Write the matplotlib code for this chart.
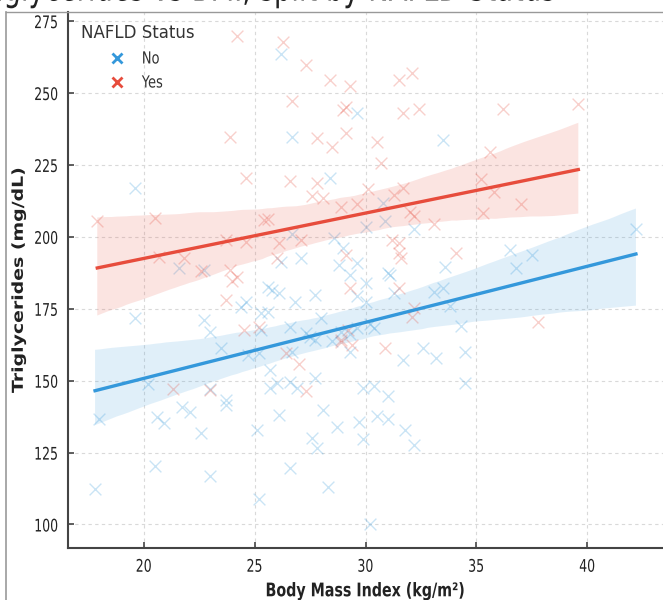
import matplotlib
matplotlib.use("Agg")
import matplotlib.pyplot as plt
import seaborn as sns
import numpy as np
from matplotlib.lines import Line2D
from matplotlib.patheffects import AbstractPathEffect
from matplotlib.transforms import Affine2D

# ---- data ----
bmi_no = [19.6, 26.2, 29.6, 26.7, 33.5, 28.4, 30.8, 30.9, 32.2, 30.0, 28.6, 26.7, 27.1, 26.2,
          29.0, 28.8, 29.6, 33.6, 31.0, 29.3, 21.6, 22.7, 42.2, 36.5, 37.5, 36.8, 30.0, 31.1,
          29.6, 30.0, 31.3, 33.1, 33.5, 33.8, 30.2, 30.4, 29.6, 28.9, 29.3, 28.5, 29.3, 34.3,
          31.7, 32.6, 33.2, 34.5, 34.5, 29.9, 30.4, 31.0, 28.7, 29.7, 30.5, 31.0, 31.8, 29.9,
          32.2, 24.6, 24.4, 25.6, 25.8, 25.3, 26.8, 26.1, 27.7, 25.6, 25.3, 26.7, 27.3, 27.5,
          27.7, 25.7, 25.7, 26.0, 26.6, 26.9, 27.7, 26.1, 28.1, 27.6, 25.1, 23.7, 23.7, 23.0,
          22.6, 21.7, 22.1, 20.6, 20.9, 20.2, 18.0, 19.6, 22.7, 23.0, 23.5, 24.7,
          25.2, 20.5, 23.0, 17.8, 25.2, 28.0, 26.6, 27.8, 26.6, 28.3, 30.2]
tg_no = [217.1, 263.4, 243.2, 234.8, 233.8, 220.6, 211.8, 205.6, 202.8, 203.5, 199.7, 201.0,
         192.7, 191.3, 196.2, 190.2, 190.9, 189.5, 187.5, 186.8, 189.2, 188.5, 202.8, 195.5,
         193.7, 189.2, 184.0, 186.8, 179.4, 177.4, 180.5, 180.8, 182.2, 176.0, 169.7, 168.3,
         168.3, 167.0, 166.2, 163.8, 160.0, 169.0, 157.1, 161.3, 157.8, 160.0, 149.1, 147.4,
         148.1, 144.6, 133.8, 135.5, 137.6, 136.6, 132.8, 129.6, 127.5, 177.4, 175.6, 182.6,
         181.5, 173.5, 177.4, 180.5, 179.8, 173.9, 167.6, 159.9, 166.6, 165.2, 164.1, 153.7,
         147.4, 149.1, 149.5, 147.4, 150.8, 138.0, 139.7, 130.0, 132.8, 143.2, 141.5, 147.0,
         131.7, 140.8, 139.0, 137.3, 135.2, 149.0, 136.6, 171.8, 171.1, 167.0, 161.3, 158.9,
         159.6, 120.2, 117.0, 112.5, 109.0, 171.8, 168.6, 126.5, 119.5, 112.9, 100.3]

bmi_yes = [24.2, 26.3, 27.3, 28.4, 29.3, 31.5, 32.1, 26.7, 29.1, 29.0, 31.7, 32.4, 27.8, 28.5,
           29.1, 30.5, 30.7, 26.6, 27.8, 27.6, 28.1, 30.1, 31.3, 31.7, 28.9, 29.6, 25.6, 32.0,
           32.2, 33.1, 26.1, 27.1, 31.2, 31.5, 26.0, 29.1, 31.5, 31.6, 34.1, 23.9, 24.6, 17.9,
           20.5, 25.4, 23.7, 24.6, 20.7, 21.8, 23.9, 24.2, 36.2, 39.6, 35.6, 35.2, 35.8, 37.0,
           35.3, 29.3, 31.5, 32.2, 32.1, 29.2, 28.9, 37.8, 30.9, 22.6, 24.0, 23.7, 24.5, 25.2,
           26.4, 27.0, 27.3, 21.3, 23.0, 28.9, 29.4]
tg_yes = [269.7, 267.6, 259.6, 254.7, 252.3, 254.4, 256.8, 247.4, 245.0, 244.2, 243.2, 244.6,
          234.5, 231.4, 236.2, 233.1, 225.8, 219.5, 218.8, 214.3, 213.6, 216.7, 214.6, 217.1,
          210.5, 211.5, 206.3, 208.7, 207.3, 204.5, 197.9, 199.0, 199.0, 197.9, 192.7, 193.7,
          194.4, 192.7, 194.4, 234.8, 220.6, 205.6, 206.6, 205.9, 199.0, 198.3, 193.0, 192.7,
          188.5, 186.0, 244.6, 246.3, 229.6, 220.2, 215.7, 211.5, 208.4, 182.2, 182.2, 175.3,
          172.1, 167.6, 163.3, 170.4, 161.3, 188.0, 184.7, 178.0, 167.6, 168.6, 159.6, 155.8,
          146.3, 147.0, 146.7, 164.1, 162.3]

groups = ["No", "Yes"]
colors = {"No": "#3498db", "Yes": "#e74c3c"}
x_ticks = [20, 25, 30, 35, 40]
y_ticks = [100, 125, 150, 175, 200, 225, 250, 275]
title = "Triglycerides vs BMI, split by NAFLD Status"

W, H = 663, 600
plt.rcParams["font.family"] = ["DejaVu Sans"]


class Squeeze(AbstractPathEffect):
    """Narrow the glyph outlines of a text (keeps it a real Text artist)."""

    def __init__(self, sx=1.0, sy=1.0, anchor="center"):
        super().__init__()
        self.sx, self.sy, self.anchor = sx, sy, anchor

    def draw_path(self, renderer, gc, tpath, affine, rgbFace=None):
        v = tpath.vertices
        if len(v) == 0:
            return renderer.draw_path(gc, tpath, affine, rgbFace)
        x0, x1 = v[:, 0].min(), v[:, 0].max()
        y0, y1 = v[:, 1].min(), v[:, 1].max()
        ax_ = {"left": x0, "center": (x0 + x1) / 2, "right": x1, "bottom": (x0 + x1) / 2}[self.anchor]
        ay_ = y0 if self.anchor == "bottom" else (y0 + y1) / 2
        t = Affine2D().translate(-ax_, -ay_).scale(self.sx, self.sy).translate(ax_, ay_)
        renderer.draw_path(gc, t.transform_path(tpath), affine, rgbFace)


fig = plt.figure(figsize=(W / 100, H / 100), dpi=100)
ax = fig.add_axes([68 / W, 1 - 548 / H, 1 - 68 / W, (548 - 12) / H])

data = {"No": (bmi_no, tg_no), "Yes": (bmi_yes, tg_yes)}
for g in groups:
    xs, ys = data[g]
    sns.regplot(x=np.array(xs), y=np.array(ys), ax=ax, marker="x", color=colors[g],
                scatter_kws={"alpha": 0.26, "s": 72, "linewidths": 1.0},
                line_kws={"linewidth": 2.4}, ci=95, n_boot=1000, seed=3, truncate=True)

ax.set_xticks(x_ticks)
ax.set_yticks(y_ticks)
ax.grid(True, linestyle=(0, (3, 3)), color="#d9d9d9", linewidth=0.8)
ax.set_axisbelow(True)
for s in ["top", "right"]:
    ax.spines[s].set_visible(False)
for s in ["left", "bottom"]:
    ax.spines[s].set_color("#444444")
    ax.spines[s].set_linewidth(1.5)
ax.tick_params(direction="in", length=4, width=1.2, color="#444444", labelsize=12.5,
               labelcolor="#222222", pad=7)
for lab in ax.get_xticklabels():
    lab.set_path_effects([Squeeze(sx=0.72, anchor="center")])
for lab in ax.get_yticklabels():
    lab.set_path_effects([Squeeze(sx=0.72, anchor="right")])

ax.set_xlabel("Body Mass Index (kg/m²)", fontsize=13.5, fontweight="bold", color="#222222",
              labelpad=4, path_effects=[Squeeze(sx=0.76, anchor="center")])
ax.set_ylabel("Triglycerides (mg/dL)", fontsize=13.6, fontweight="bold", color="#222222",
              path_effects=[Squeeze(sy=0.8, anchor="bottom")])
ax.yaxis.set_label_coords((26 - 68) / 595, 0.5)

# title of the original screenshot: cut by the top edge, only descenders show
fig.text(-28 / W, 1 - 8.5 / H, title, fontsize=27, color="#222222", ha="left", va="bottom",
         path_effects=[Squeeze(sx=0.73, anchor="left")])

# legend: title as a separate text, entries below it
fig.text(81 / W, 1 - 33 / H, "NAFLD Status", fontsize=12, color="#333333", va="center",
         ha="left")
handles = [Line2D([], [], marker="x", linestyle="", color=colors[g], markersize=7,
                  markeredgewidth=2) for g in groups]
leg = ax.legend(handles, groups, loc="upper left", frameon=False, fontsize=12,
                bbox_to_anchor=(108.5 / W, 1 - 49.5 / H), bbox_transform=fig.transFigure,
                borderpad=0, borderaxespad=0, handlelength=1.0, handletextpad=1.0,
                labelspacing=0.36)
for t in leg.get_texts():
    t.set_color("#333333")
    t.set_path_effects([Squeeze(sx=0.78, anchor="left")])

# screenshot frame lines
fig.add_artist(Line2D([6 / W, 6 / W], [0, 1 - 11.5 / H], color="#999999", lw=1.2,
                      transform=fig.transFigure))
fig.add_artist(Line2D([6 / W, 1], [1 - 11.5 / H, 1 - 11.5 / H], color="#999999", lw=1.0,
                      transform=fig.transFigure))

fig.savefig("out.png", dpi=100)
